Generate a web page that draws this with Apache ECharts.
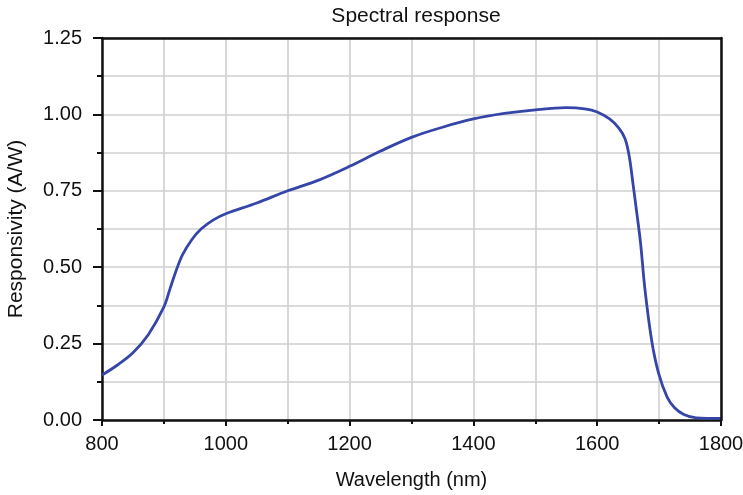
<!DOCTYPE html>
<html>
<head>
<meta charset="utf-8">
<title>Spectral response</title>
<script src="https://cdn.jsdelivr.net/npm/echarts@6/dist/echarts.min.js"></script>
<style>
  html, body { margin: 0; padding: 0; background: #fff; }
  #chart { width: 743px; height: 495px; }
</style>
</head>
<body>
<div id="chart"></div>
<script>
// Photodiode responsivity curve (A/W) versus wavelength (nm)
const wavelengths = [800, 825, 850, 875, 900, 910, 920, 930, 945, 960, 980, 1000, 1050, 1100, 1150, 1200, 1250, 1300, 1350, 1400, 1450, 1500, 1550, 1580, 1600, 1620, 1635, 1645, 1652, 1658, 1664, 1670, 1677, 1688, 1699, 1713, 1725, 1740, 1760, 1800];
const responsivity = [0.147, 0.18, 0.22, 0.28, 0.37, 0.43, 0.49, 0.54, 0.59, 0.625, 0.655, 0.675, 0.71, 0.75, 0.785, 0.83, 0.88, 0.925, 0.958, 0.985, 1.003, 1.015, 1.022, 1.018, 1.008, 0.985, 0.955, 0.92, 0.86, 0.77, 0.677, 0.58, 0.43, 0.26, 0.154, 0.075, 0.04, 0.018, 0.007, 0.005];

const titleText = 'Spectral response';
const xName = 'Wavelength (nm)';
const yName = 'Responsivity (A/W)';

const FONT = '"Liberation Sans", Arial, Helvetica, sans-serif';
const INK = '#111';
const GRID_GREY = '#cfcfcf';
const points = wavelengths.map((w, i) => [w, responsivity[i]]);

// Frame edges (top and right) drawn as plain axis lines above the grid lines
const frameAxis = {
  axisLine: { show: true, onZero: false, lineStyle: { color: INK, width: 2.5 } },
  axisTick: { show: false },
  axisLabel: { show: false },
  splitLine: { show: false },
  z: 10
};

const chart = echarts.init(document.getElementById('chart'), null, { renderer: 'canvas' });
chart.setOption({
  animation: false,
  backgroundColor: '#ffffff',
  title: {
    text: titleText,
    left: 411,
    textAlign: 'center',
    top: 1,
    textStyle: { fontFamily: FONT, fontSize: 21, fontWeight: 'normal', color: INK }
  },
  grid: {
    left: 102, right: 22, top: 38, bottom: 75,
    outerBoundsMode: 'none',
    containLabel: false,
    show: false
  },
  xAxis: [{
    type: 'value',
    min: 800, max: 1800, interval: 200,
    name: xName,
    nameLocation: 'middle',
    nameGap: 50,
    nameTextStyle: { fontFamily: FONT, fontSize: 20, color: INK },
    axisLine: { show: true, onZero: false, lineStyle: { color: INK, width: 2.5 } },
    axisTick: { show: true, length: 6, lineStyle: { color: INK, width: 2 } },
    minorTick: { show: true, splitNumber: 2, length: 4, lineStyle: { color: INK, width: 2 } },
    axisLabel: { fontFamily: FONT, fontSize: 20, color: INK, margin: 14, formatter: v => String(v) },
    splitLine: { show: true, lineStyle: { color: GRID_GREY, width: 1.6 } },
    minorSplitLine: { show: true, lineStyle: { color: GRID_GREY, width: 1.6 } }
  }, Object.assign({
    type: 'value', position: 'top', min: 800, max: 1800, interval: 200
  }, frameAxis)],
  yAxis: [{
    type: 'value',
    min: 0, max: 1.25, interval: 0.25,
    name: yName,
    nameLocation: 'middle',
    nameGap: 75,
    nameTextStyle: { fontFamily: FONT, fontSize: 21, color: INK },
    axisLine: { show: true, onZero: false, lineStyle: { color: INK, width: 2.5 } },
    axisTick: { show: true, length: 9, lineStyle: { color: INK, width: 2 } },
    minorTick: { show: true, splitNumber: 2, length: 5, lineStyle: { color: INK, width: 2 } },
    axisLabel: {
      fontFamily: FONT, fontSize: 20, color: INK, margin: 20,
      formatter: v => v.toFixed(2)
    },
    splitLine: { show: true, lineStyle: { color: GRID_GREY, width: 1.6 } },
    minorSplitLine: { show: true, lineStyle: { color: GRID_GREY, width: 1.6 } }
  }, Object.assign({
    type: 'value', position: 'right', min: 0, max: 1.25, interval: 0.25
  }, frameAxis)],
  series: [{
    type: 'line',
    data: points,
    smooth: 0.35,
    showSymbol: false,
    lineStyle: { color: '#3545a8', width: 2.8 },
    z: 5
  }]
});
</script>
</body>
</html>
